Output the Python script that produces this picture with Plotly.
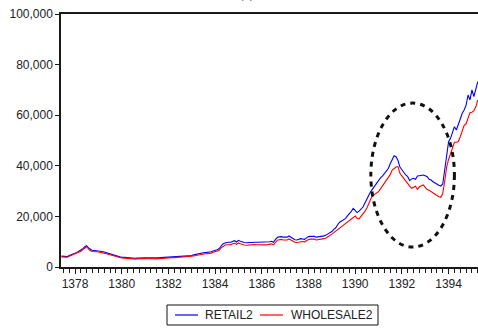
import plotly.graph_objects as go

# Monthly price indices, Persian calendar years; first observation 1377 month 6
START_YEAR = 1377
START_MONTH = 6

retail2 = [
    # 1377 (M06-M12)
    4300, 4150, 4050, 4100, 4500, 4900, 5100,
    # 1378
    5400, 5700, 6100, 6500, 7200, 8000, 8400, 7500, 6800, 6450, 6500, 6450,
    # 1379
    6350, 6250, 6100, 5900, 5650, 5400, 5100, 4850, 4500, 4300, 4150, 4000,
    # 1380
    3900, 3800, 3700, 3600, 3560, 3500, 3450, 3430, 3500, 3600, 3690, 3620,
    # 1381
    3650, 3600, 3560, 3500, 3450, 3430, 3500, 3600, 3700, 3750, 3800, 3850,
    # 1382
    3900, 3950, 4000, 4050, 4050, 4070, 4100, 4070, 4150, 4200, 4300, 4350,
    # 1383
    4500, 4800, 5000, 5200, 5400, 5500, 5600, 5700, 5750, 5800, 6000, 6300,
    # 1384
    6500, 6800, 7200, 8400, 9100, 9500, 9760, 9800, 9760, 10200, 10400, 9900,
    # 1385
    10540, 10200, 9850, 9700, 9600, 9700, 9800, 9880, 9850, 9800, 9760, 9760,
    # 1386
    9800, 9760, 9780, 9850, 10000, 10150, 9800, 10800, 11740, 11900, 12000, 11800,
    # 1387
    11900, 11800, 12250, 11700, 11000, 10800, 10670, 10900, 11200, 11100, 10950, 11500,
    # 1388
    12000, 12100, 12250, 12100, 11800, 11850, 11950, 12050, 12300, 12600, 13000, 13500,
    # 1389
    14000, 14900, 15500, 16700, 17700, 18200, 18600, 19100, 20200, 21000, 22000, 23200,
    # 1390
    22300, 21500, 22100, 22800, 23700, 25300, 26600, 28400, 29800, 30900, 32300, 33090,
    # 1391
    34200, 35200, 35900, 36800, 37900, 38900, 40800, 42600, 44000, 43600, 42100, 39500,
    # 1392
    38340, 37000, 36370, 35700, 34120, 34800, 35060, 34670, 35970, 36100, 36300, 36370,
    # 1393
    36100, 35700, 34700, 34390, 33720, 33200, 32810, 32300, 32020, 32810, 38340, 44270,
    # 1394
    49540, 50850, 53000, 55460, 54160, 56000, 58500, 60750, 62060, 64000, 67990, 66020,
    # 1395 (M01-M04)
    69970, 67330, 70640, 73250,
]

wholesale2 = [
    # 1377 (M06-M12)
    4000, 3850, 3800, 3850, 4250, 4600, 4850,
    # 1378
    5100, 5400, 5800, 6200, 6900, 7600, 8000, 7100, 6400, 6100, 6150, 6050,
    # 1379
    5950, 5850, 5700, 5500, 5300, 5050, 4800, 4550, 4250, 4050, 3900, 3750,
    # 1380
    3600, 3500, 3400, 3300, 3250, 3200, 3150, 3100, 3200, 3300, 3380, 3300,
    # 1381
    3300, 3250, 3200, 3150, 3100, 3120, 3200, 3300, 3400, 3450, 3500, 3550,
    # 1382
    3600, 3650, 3700, 3700, 3750, 3780, 3800, 3780, 3850, 3900, 3950, 4000,
    # 1383
    4150, 4350, 4550, 4750, 4950, 5050, 5150, 5250, 5300, 5350, 5500, 5800,
    # 1384
    6000, 6200, 6500, 7500, 8200, 8600, 8800, 8850, 8800, 9200, 9400, 8950,
    # 1385
    9500, 9150, 8850, 8700, 8600, 8700, 8800, 8900, 8850, 8800, 8750, 8750,
    # 1386
    8800, 8750, 8750, 8850, 9000, 9150, 8800, 9700, 10600, 10800, 10900, 10700,
    # 1387
    10800, 10700, 11100, 10600, 9950, 9800, 9700, 9900, 10200, 10100, 9950, 10400,
    # 1388
    10900, 11000, 11100, 11000, 10700, 10750, 10850, 10950, 11200, 11500, 11900, 12400,
    # 1389
    13000, 13600, 14200, 14800, 15300, 16000, 16700, 17300, 17900, 18500, 19200, 19800,
    # 1390
    20160, 19200, 19000, 20000, 20800, 22000, 23300, 25300, 26900, 28200, 28800, 29300,
    # 1391
    29800, 30900, 32000, 33000, 34000, 35060, 36500, 38300, 39100, 39500, 39700, 37040,
    # 1392
    36000, 34900, 34000, 33200, 32000, 31100, 31500, 31900, 30710, 31700, 32100, 32420,
    # 1393
    31500, 30600, 30300, 29800, 29200, 28700, 28100, 27800, 27550, 29130, 33800, 39500,
    # 1394
    42500, 44800, 47300, 49300, 49300, 49600, 51500, 54000, 56000, 56600, 59200, 61000,
    # 1395 (M01-M04)
    61200, 61800, 63300, 66020,
]

series_names = ["RETAIL2", "WHOLESALE2"]
series_colors = ["#0000ff", "#ff0000"]
year_ticks = list(range(1378, 1396, 2))
y_ticks = [0, 20000, 40000, 60000, 80000, 100000]

# decimal year for each monthly observation
t = [START_YEAR + (START_MONTH - 1 + i) / 12 for i in range(len(retail2))]

FONT = "Liberation Sans, Arial, sans-serif"
AXIS = "#1a1a1a"
TEXT = "#222222"

fig = go.Figure()
for name, values, color in zip(series_names, [retail2, wholesale2], series_colors):
    fig.add_trace(go.Scatter(x=t, y=values, mode="lines", name=name,
                             showlegend=False,
                             line=dict(color=color, width=1.1)))

# highlighted episode around 1391-1393
fig.add_shape(type="circle", xref="x", yref="y",
              x0=1390.67, x1=1394.25, y0=7900, y1=64800,
              line=dict(color="#111111", width=3, dash="5px,5px"))

# boxed legend below the axis (paper coordinates)
fig.add_shape(type="rect", xref="paper", yref="paper",
              x0=0.2542, x1=0.7602, y0=-0.2292, y1=-0.1502,
              line=dict(color="#111111", width=1), fillcolor="white")
legend_items = [
    (0.2734, 0.3285, 0.3405),
    (0.4772, 0.5324, 0.5468),
]
annotations = []
for (lx0, lx1, tx), name, color in zip(legend_items, series_names, series_colors):
    fig.add_shape(type="line", xref="paper", yref="paper",
                  x0=lx0, x1=lx1, y0=-0.1897, y1=-0.1897,
                  line=dict(color=color, width=1.2))
    annotations.append(dict(text=name, xref="paper", yref="paper", x=tx, y=-0.1897,
                            xanchor="left", yanchor="middle", showarrow=False,
                            font=dict(size=12, color=TEXT)))

# panel captions just beyond the figure edges
annotations += [
    dict(text="(a)", xref="paper", yref="paper", x=0.446, y=1.045,
         xanchor="center", yanchor="bottom", showarrow=False,
         font=dict(size=11, color="#555555")),
    dict(text="(b)", xref="paper", yref="paper", x=0.446, y=-0.236,
         xanchor="center", yanchor="top", showarrow=False,
         font=dict(size=11, color="#555555")),
]

fig.update_layout(
    width=478, height=330,
    margin=dict(l=61, r=0, t=14, b=63),
    paper_bgcolor="white", plot_bgcolor="white",
    font=dict(family=FONT, size=12, color=TEXT),
    showlegend=False,
    xaxis=dict(range=[1377.4, 1395.26], tickvals=year_ticks,
               ticktext=[str(y) for y in year_ticks],
               showgrid=False, zeroline=False,
               showline=True, linecolor=AXIS, linewidth=1.5, mirror=True,
               ticks="outside", ticklen=5, tickwidth=1, tickcolor=AXIS,
               minor=dict(dtick=0.25, tick0=1378, ticks="outside", ticklen=4,
                          tickwidth=1, tickcolor=AXIS, showgrid=False),
               tickfont=dict(size=12)),
    yaxis=dict(range=[0, 100000], tickvals=y_ticks, tickformat=",d",
               showgrid=False, zeroline=False,
               showline=True, linecolor=AXIS, linewidth=1.5,
               ticks="outside", ticklen=4, tickwidth=1, tickcolor=AXIS,
               tickfont=dict(size=12)),
    annotations=annotations,
)

fig.write_html("out.html")
